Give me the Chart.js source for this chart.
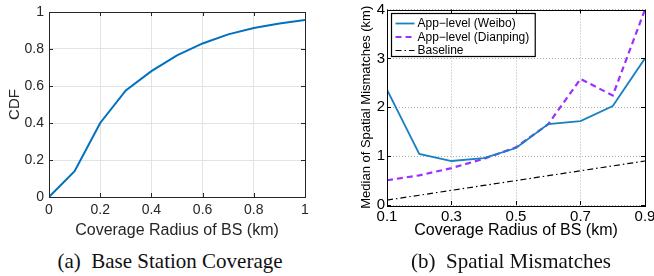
<!DOCTYPE html>
<html>
<head>
<meta charset="utf-8">
<script src="https://cdn.jsdelivr.net/npm/chart.js@4"></script>
<style>
  html, body { margin: 0; padding: 0; background: #fff; overflow: hidden; }
  body { width: 654px; height: 276px; position: relative; }
  .panel { position: absolute; top: 0; width: 340px; height: 240px; }
  #left-panel { left: 0; }
  #right-panel { left: 327px; }
  .caption {
    position: absolute; top: 249px; font-family: "Liberation Serif", "Times New Roman", serif;
    font-size: 21px; color: #111; white-space: pre; transform: translateX(-50%);
  }
</style>
</head>
<body>
<div class="panel" id="left-panel"><canvas id="cdfChart" width="340" height="240"></canvas></div>
<div class="panel" id="right-panel"><canvas id="mismatchChart" width="340" height="240"></canvas></div>
<div class="caption" style="left:170px">(a)  Base Station Coverage</div>
<div class="caption" style="left:511px">(b)  Spatial Mismatches</div>

<script>
// --- data: (a) CDF of base station coverage radius ---
const radiusA = [0, 0.1, 0.2, 0.3, 0.4, 0.5, 0.6, 0.7, 0.8, 0.9, 1.0];
const cdfA = [0, 0.14, 0.40, 0.576, 0.68, 0.766, 0.83, 0.879, 0.914, 0.938, 0.957];
const xTicksA = [0, 0.2, 0.4, 0.6, 0.8, 1];
const yTicksA = [0, 0.2, 0.4, 0.6, 0.8, 1];

// --- data: (b) median of spatial mismatches ---
const radiusB = [0.1, 0.2, 0.3, 0.4, 0.5, 0.6, 0.7, 0.8, 0.9];
const weibo = [2.36, 1.045, 0.9, 0.958, 1.165, 1.655, 1.715, 2.025, 3.0];
const dianping = [0.506, 0.607, 0.755, 0.944, 1.18, 1.655, 2.58, 2.24, 4.0];
const baseline = [0.1, 0.2, 0.3, 0.4, 0.5, 0.6, 0.7, 0.8, 0.9];
const xTicksB = [0.1, 0.3, 0.5, 0.7, 0.9];
const yTicksB = [0, 1, 2, 3, 4];
const seriesNames = ['App\u2212level (Weibo)', 'App\u2212level (Dianping)', 'Baseline'];

const SANS = '"Liberation Sans", Arial, Helvetica, sans-serif';

function toPoints(xs, ys) {
  return xs.map((x, i) => ({ x: x, y: ys[i] }));
}

function fixedTicks(values) {
  return function(scale) {
    scale.ticks = values.map(v => ({ value: v }));
  };
}

// MATLAB style: box around the plot and ticks pointing inwards on all sides
const boxPlugin = {
  id: 'boxPlugin',
  afterDraw(chart, args, opts) {
    const { ctx, chartArea: a, scales } = chart;
    const len = 4;
    ctx.save();
    ctx.strokeStyle = opts.color;
    ctx.lineWidth = 1;
    ctx.beginPath();
    scales.x.ticks.forEach(t => {
      const px = Math.round(scales.x.getPixelForValue(t.value)) + 0.5;
      ctx.moveTo(px, a.bottom); ctx.lineTo(px, a.bottom - len);
      ctx.moveTo(px, a.top); ctx.lineTo(px, a.top + len);
    });
    scales.y.ticks.forEach(t => {
      const py = Math.round(scales.y.getPixelForValue(t.value)) + 0.5;
      ctx.moveTo(a.left, py); ctx.lineTo(a.left + len, py);
      ctx.moveTo(a.right, py); ctx.lineTo(a.right - len, py);
    });
    ctx.stroke();
    ctx.strokeRect(Math.round(a.left) + 0.5, Math.round(a.top) + 0.5,
      Math.round(a.right - a.left), Math.round(a.bottom - a.top));
    ctx.restore();
  }
};

// legend box drawn inside the upper left corner of the plot
const insideLegend = {
  id: 'insideLegend',
  afterDraw(chart, args, opts) {
    if (!opts.show) return;
    const { ctx, chartArea: a } = chart;
    const sets = chart.data.datasets;
    ctx.save();
    ctx.font = '12px ' + SANS;
    const textW = Math.max(...sets.map(d => ctx.measureText(d.label).width));
    const x0 = Math.round(a.left) + 4.5;
    const y0 = Math.round(a.top) + 3.5;
    const w = 29 + textW + 3;
    const h = 43;
    ctx.fillStyle = '#fff';
    ctx.fillRect(x0, y0, w, h);
    ctx.strokeStyle = '#000';
    ctx.lineWidth = 1.2;
    ctx.strokeRect(x0, y0, w, h);
    sets.forEach((d, i) => {
      const cy = y0 + 10 + i * 13.5;
      ctx.strokeStyle = d.borderColor;
      ctx.lineWidth = d.borderWidth;
      ctx.setLineDash(d.borderDash || []);
      ctx.beginPath();
      ctx.moveTo(x0 + 4, cy);
      ctx.lineTo(x0 + 23, cy);
      ctx.stroke();
      ctx.setLineDash([]);
      ctx.fillStyle = '#000';
      ctx.textBaseline = 'middle';
      ctx.fillText(d.label, x0 + 26, cy + 0.5);
    });
    ctx.restore();
  }
};

Chart.register(boxPlugin, insideLegend);

// (a) Base Station Coverage
new Chart(document.getElementById('cdfChart'), {
  type: 'line',
  data: {
    datasets: [{
      label: 'CDF',
      data: toPoints(radiusA, cdfA),
      borderColor: '#0072BD',
      borderWidth: 2,
      pointRadius: 0,
      fill: false,
      tension: 0
    }]
  },
  options: {
    responsive: false,
    animation: false,
    events: [],
    layout: { padding: { left: 0, right: 35, top: 0, bottom: 0 } },
    plugins: {
      legend: { display: false },
      tooltip: { enabled: false },
      boxPlugin: { color: '#262626' },
      insideLegend: { show: false }
    },
    scales: {
      x: {
        type: 'linear', min: 0, max: 1,
        afterBuildTicks: fixedTicks(xTicksA),
        afterFit: s => { s.height = 43; },
        grid: { color: '#e3e3e3', drawTicks: false },
        border: { display: false },
        ticks: { color: '#262626', padding: 6, maxRotation: 0,
          callback: v => String(v),
          font: { family: SANS, size: 14, lineHeight: 1 } },
        title: { display: true, text: 'Coverage Radius of BS (km)', color: '#262626',
          padding: 0, font: { family: SANS, size: 16 } }
      },
      y: {
        type: 'linear', min: 0, max: 1,
        afterBuildTicks: fixedTicks(yTicksA),
        afterFit: s => { s.width = 49; },
        grid: { color: '#e3e3e3', drawTicks: false },
        border: { display: false },
        ticks: { color: '#262626', padding: 5,
          callback: v => String(v),
          font: { family: SANS, size: 14, lineHeight: 1 } },
        title: { display: true, text: 'CDF', color: '#262626',
          padding: { top: 6, bottom: 0 }, font: { family: SANS, size: 15 } }
      }
    }
  }
});

// (b) Spatial Mismatches
const colorsB = ['#1a80c4', '#9b30ff', '#000000'];
new Chart(document.getElementById('mismatchChart'), {
  type: 'line',
  data: {
    datasets: [
      { label: seriesNames[0], data: toPoints(radiusB, weibo), borderColor: colorsB[0],
        borderWidth: 1.8, pointRadius: 0, tension: 0 },
      { label: seriesNames[1], data: toPoints(radiusB, dianping), borderColor: colorsB[1],
        borderWidth: 2.2, borderDash: [6, 4], pointRadius: 0, tension: 0 },
      { label: seriesNames[2], data: toPoints(radiusB, baseline), borderColor: colorsB[2],
        borderWidth: 1.2, borderDash: [6, 3, 1.5, 3], pointRadius: 0, tension: 0 }
    ]
  },
  options: {
    responsive: false,
    animation: false,
    events: [],
    layout: { padding: { left: 0, right: 22, top: 0, bottom: 0 } },
    plugins: {
      legend: { display: false },
      tooltip: { enabled: false },
      boxPlugin: { color: '#000' },
      insideLegend: { show: true }
    },
    scales: {
      x: {
        type: 'linear', min: 0.1, max: 0.9,
        afterBuildTicks: fixedTicks(xTicksB),
        afterFit: s => { s.height = 35; },
        grid: { color: '#b0b0b0', drawTicks: false },
        border: { display: false, dash: [1, 2] },
        ticks: { color: '#000', padding: 4, maxRotation: 0,
          callback: v => v.toFixed(1),
          font: { family: SANS, size: 15, lineHeight: 1 } },
        title: { display: true, text: 'Coverage Radius of BS (km)', color: '#000',
          padding: 0, font: { family: SANS, size: 16 } }
      },
      y: {
        type: 'linear', min: 0, max: 4,
        afterBuildTicks: fixedTicks(yTicksB),
        afterFit: s => { s.width = 60; },
        grid: { color: '#b0b0b0', drawTicks: false },
        border: { display: false, dash: [1, 2] },
        ticks: { color: '#000', padding: 2,
          font: { family: SANS, size: 15, lineHeight: 1 } },
        title: { display: true, text: 'Median of Spatial Mismatches (km)', color: '#000',
          padding: { top: 32, bottom: 0 }, font: { family: SANS, size: 13 } }
      }
    }
  }
});
</script>
</body>
</html>
